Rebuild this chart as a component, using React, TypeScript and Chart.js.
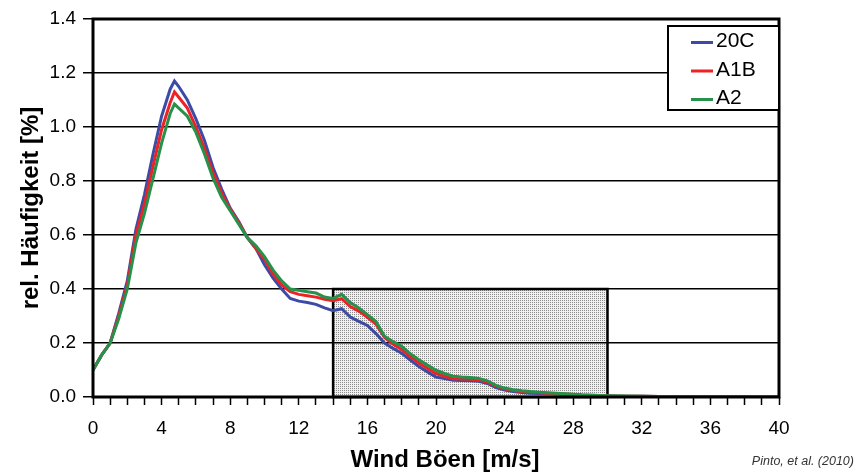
import React, { useEffect, useRef } from "react";
import { Chart, registerables } from "chart.js";

Chart.register(...registerables);

// Wind gust speed [m/s]
const windX = [
  0, 0.5, 1, 1.5, 2, 2.5, 3, 3.5, 4, 4.5, 4.75, 5, 5.5, 6, 6.5, 7, 7.5, 8, 8.5, 9,
  9.5, 10, 10.5, 11, 11.5, 12, 12.5, 13, 13.5, 14, 14.5, 15, 15.5, 16, 16.5, 17, 17.5, 18, 18.5, 19,
  19.5, 20, 20.5, 21, 21.5, 22, 22.5, 23, 23.5, 24, 24.5, 25, 25.5, 26, 26.5, 27, 27.5, 28, 28.5, 29,
  29.5, 30, 31, 32, 33, 34, 35, 36, 37, 38, 39, 40,
];

// relative frequency [%]
const s20C = [
  0.10, 0.155, 0.20, 0.31, 0.43, 0.62, 0.75, 0.90, 1.04, 1.14, 1.17, 1.15, 1.10, 1.03, 0.95, 0.85, 0.77, 0.70, 0.65, 0.59,
  0.55, 0.49, 0.44, 0.40, 0.365, 0.355, 0.35, 0.343, 0.33, 0.32, 0.327, 0.296, 0.28, 0.265, 0.235, 0.20, 0.18, 0.162, 0.137, 0.113,
  0.093, 0.074, 0.068, 0.062, 0.061, 0.06, 0.058, 0.05, 0.035, 0.026, 0.02, 0.017, 0.014, 0.013, 0.012, 0.011, 0.009, 0.008, 0.006, 0.005,
  0.004, 0.004, 0.003, 0.003, 0.002, 0.002, 0.001, 0.001, 0.001, 0.001, 0.0, 0.0,
];
const sA1B = [
  0.10, 0.155, 0.20, 0.30, 0.415, 0.60, 0.715, 0.855, 0.99, 1.09, 1.13, 1.11, 1.07, 1.00, 0.92, 0.83, 0.755, 0.695, 0.645, 0.59,
  0.55, 0.51, 0.455, 0.415, 0.39, 0.38, 0.375, 0.37, 0.362, 0.357, 0.364, 0.335, 0.318, 0.295, 0.27, 0.22, 0.195, 0.176, 0.15, 0.126,
  0.106, 0.087, 0.077, 0.068, 0.067, 0.066, 0.063, 0.055, 0.04, 0.03, 0.024, 0.02, 0.018, 0.016, 0.014, 0.012, 0.011, 0.009, 0.007, 0.006,
  0.005, 0.004, 0.003, 0.003, 0.002, 0.002, 0.001, 0.001, 0.001, 0.001, 0.0, 0.0,
];
const sA2 = [
  0.10, 0.155, 0.20, 0.29, 0.40, 0.57, 0.68, 0.81, 0.94, 1.05, 1.085, 1.07, 1.04, 0.98, 0.90, 0.81, 0.74, 0.69, 0.64, 0.59,
  0.56, 0.52, 0.47, 0.43, 0.40, 0.395, 0.39, 0.385, 0.37, 0.365, 0.38, 0.35, 0.33, 0.305, 0.28, 0.225, 0.205, 0.188, 0.16, 0.138,
  0.118, 0.099, 0.087, 0.077, 0.074, 0.072, 0.069, 0.06, 0.043, 0.033, 0.027, 0.023, 0.02, 0.018, 0.016, 0.014, 0.012, 0.01, 0.008, 0.007,
  0.006, 0.005, 0.004, 0.003, 0.002, 0.002, 0.001, 0.001, 0.001, 0.001, 0.001, 0.001,
];

const seriesNames = ["20C", "A1B", "A2"];
const seriesColors = ["#3c4ba6", "#ec2227", "#26914a"];
const seriesValues = [s20C, sA1B, sA2];

// highlighted range [m/s] and height [%]
const boxRange = [14, 30];
const boxHeight = 0.4;

const xTitle = "Wind Böen [m/s]";
const yTitle = "rel. Häufigkeit [%]";
const credit = "Pinto, et al. (2010)";

const FONT = "'Liberation Sans', Arial, sans-serif";

function makePattern(ctx: CanvasRenderingContext2D) {
  const c = document.createElement("canvas");
  c.width = 2;
  c.height = 2;
  const p = c.getContext("2d")!;
  p.fillStyle = "#f0f0f0";
  p.fillRect(0, 0, 2, 2);
  p.fillStyle = "#8c8c8c";
  p.fillRect(0, 0, 1, 1);
  return ctx.createPattern(c, "repeat");
}

const boxPlugin = {
  id: "boxPlugin",
  beforeDraw(chart: any) {
    const { ctx, scales } = chart;
    const x0 = scales.x.getPixelForValue(boxRange[0]);
    const x1 = scales.x.getPixelForValue(boxRange[1]);
    const y0 = scales.y.getPixelForValue(0);
    const y1 = scales.y.getPixelForValue(boxHeight);
    ctx.save();
    const pat = makePattern(ctx);
    ctx.fillStyle = pat || "#d8d8d8";
    ctx.fillRect(x0, y1, x1 - x0, y0 - y1);
    ctx.lineWidth = 2.5;
    ctx.strokeStyle = "#000";
    ctx.strokeRect(x0, y1, x1 - x0, y0 - y1);
    ctx.restore();
  },
};

const framePlugin = {
  id: "framePlugin",
  afterDatasetsDraw(chart: any) {
    const { ctx, chartArea } = chart;
    ctx.save();
    ctx.strokeStyle = "#000";
    ctx.lineWidth = 3;
    ctx.strokeRect(chartArea.left, chartArea.top, chartArea.right - chartArea.left, chartArea.bottom - chartArea.top);
    ctx.restore();
  },
  afterDraw(chart: any) {
    const { ctx, chartArea } = chart;
    const right = chartArea.right;
    const left = right - 111;
    const top = 26;
    const bottom = 110;
    ctx.save();
    ctx.fillStyle = "#fff";
    ctx.fillRect(left, top, right - left, bottom - top);
    ctx.strokeStyle = "#000";
    ctx.lineWidth = 2;
    ctx.strokeRect(left, top, right - left, bottom - top);
    ctx.font = `21px ${FONT}`;
    ctx.textBaseline = "middle";
    ctx.textAlign = "left";
    seriesNames.forEach((name, i) => {
      const y = 41.5 + i * 28.5;
      ctx.strokeStyle = seriesColors[i];
      ctx.lineWidth = 3;
      ctx.beginPath();
      ctx.moveTo(left + 23, y + 1);
      ctx.lineTo(left + 45, y + 1);
      ctx.stroke();
      ctx.fillStyle = "#000";
      ctx.fillText(name, left + 48, y);
    });
    // x-axis title, placed as in the original figure
    ctx.font = `bold 24px ${FONT}`;
    ctx.textAlign = "center";
    ctx.textBaseline = "middle";
    ctx.fillStyle = "#000";
    ctx.fillText(xTitle, 445, 460);
    ctx.restore();
  },
};

export default function App() {
  const canvasRef = useRef<HTMLCanvasElement | null>(null);

  useEffect(() => {
    const canvas = canvasRef.current;
    if (!canvas) return;
    const datasets = seriesNames.map((name, i) => ({
      label: name,
      data: windX.map((x, j) => ({ x, y: seriesValues[i][j] })),
      borderColor: seriesColors[i],
      backgroundColor: seriesColors[i],
      borderWidth: 3,
      pointRadius: 0,
      tension: 0,
      fill: false,
      order: 3 - i,
    }));
    const chart = new Chart(canvas, {
      type: "line",
      data: { datasets },
      options: {
        animation: false,
        responsive: true,
        maintainAspectRatio: false,
        layout: { padding: { left: 0, right: 82, top: 19, bottom: 0 } },
        plugins: { legend: { display: false }, tooltip: { enabled: false } },
        scales: {
          x: {
            type: "linear",
            min: 0,
            max: 40,
            afterFit: (s: any) => {
              s.height = 76;
            },
            border: { display: false },
            grid: {
              drawOnChartArea: false,
              drawTicks: true,
              tickLength: 8,
              tickColor: "#000",
              tickWidth: 1.5,
            },
            ticks: {
              stepSize: 1,
              autoSkip: false,
              maxRotation: 0,
              padding: 12,
              color: "#000",
              font: { family: FONT, size: 19 },
              callback: (v: any) => (Number(v) % 4 === 0 ? String(v) : ""),
            },
            title: { display: false, text: xTitle },
          },
          y: {
            min: 0,
            max: 1.4,
            afterFit: (s: any) => {
              s.width = 93;
            },
            border: { display: false },
            grid: {
              color: "#000",
              lineWidth: 1.5,
              tickLength: 10,
              tickColor: "#000",
              tickWidth: 1.5,
            },
            ticks: {
              stepSize: 0.2,
              padding: 7,
              color: "#000",
              font: { family: FONT, size: 19 },
              callback: (v: any) => Number(v).toFixed(1),
            },
            title: {
              display: true,
              text: yTitle,
              color: "#000",
              font: { family: FONT, size: 24, weight: "bold" },
              padding: { top: 17, bottom: 0 },
            },
          },
        },
      },
      plugins: [boxPlugin, framePlugin],
    });
    return () => chart.destroy();
  }, []);

  return (
    <div style={{ position: "fixed", left: 0, top: 0, width: 861, height: 473, background: "#fff" }}>
      <canvas ref={canvasRef} />
      <div
        style={{
          position: "absolute",
          right: 7,
          top: 454,
          fontFamily: FONT,
          fontStyle: "italic",
          fontSize: 12.5,
          color: "#333",
          whiteSpace: "nowrap",
        }}
      >
        {credit}
      </div>
    </div>
  );
}
